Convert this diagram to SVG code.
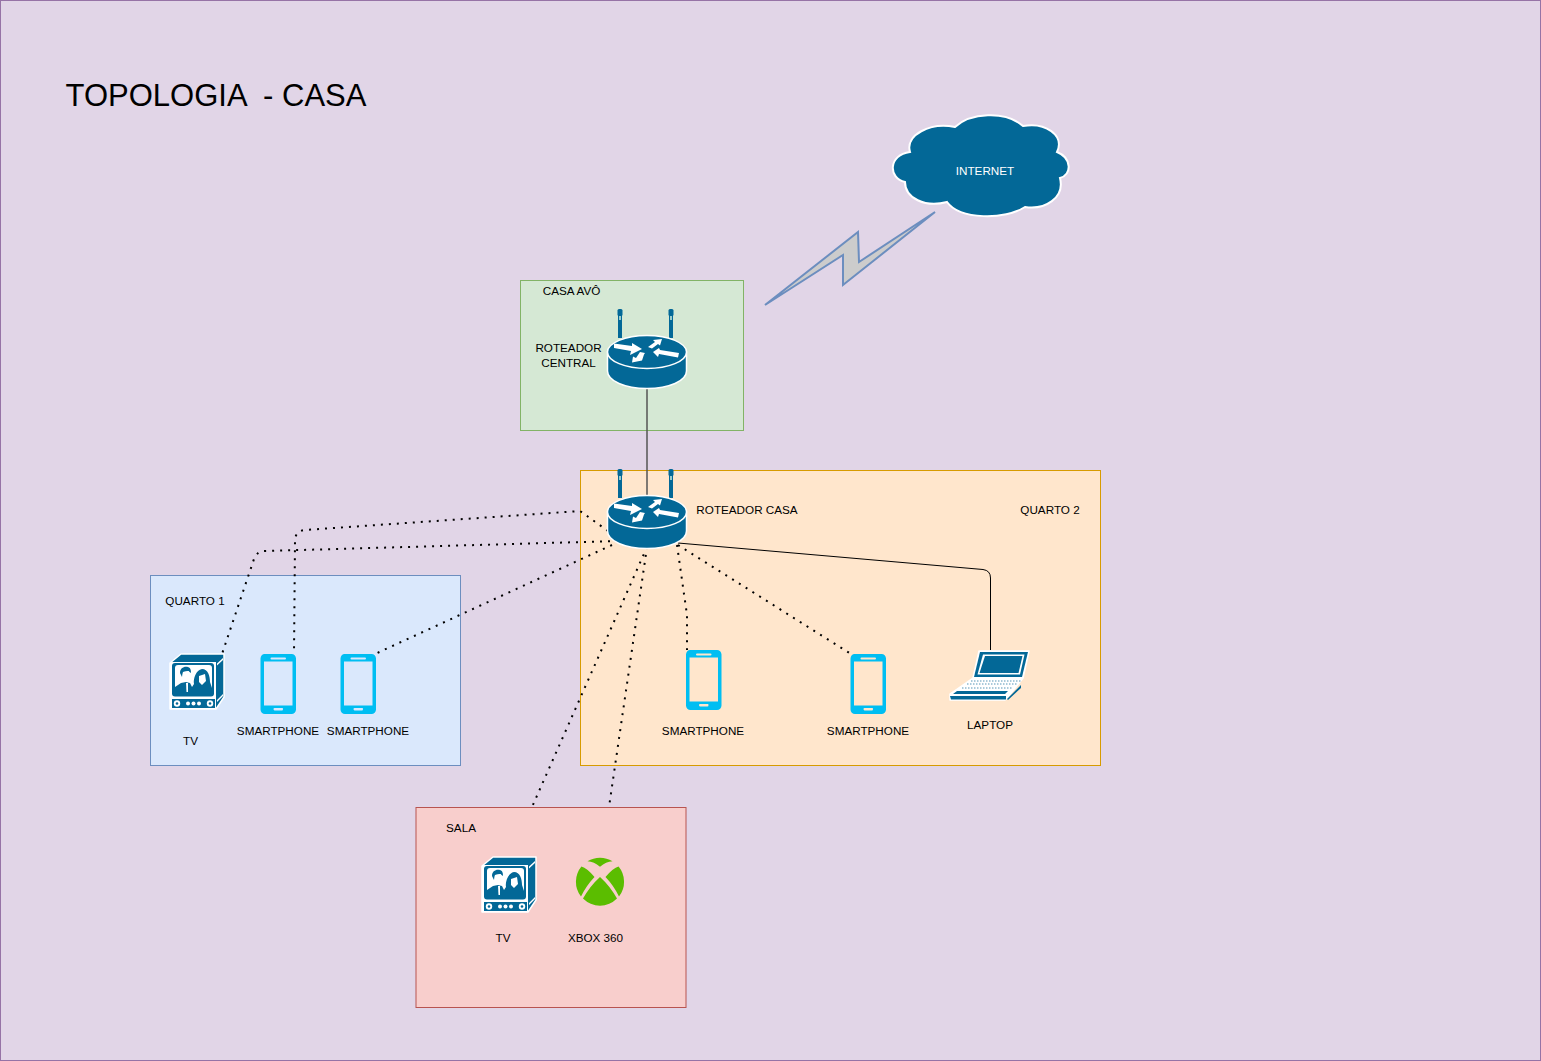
<svg xmlns="http://www.w3.org/2000/svg" width="1541" height="1061" viewBox="0 0 1541 1061">
<style>
text{font-family:"Liberation Sans",Arial,sans-serif;font-size:11.700px;fill:#000;text-anchor:middle;white-space:pre}
.blue{fill:#036897}
.wb{fill:#036897;stroke:#fff;stroke-width:1.5}
.wh{fill:#fff}
.dot{fill:none;stroke:#000;stroke-width:2;stroke-dasharray:2 6;stroke-linecap:butt}
.ph{fill:#00bef2;fill-rule:evenodd}
</style>
<defs>
<g id="router">
<rect x="-29" y="-42" width="4" height="28" class="blue"/>
<rect x="22" y="-42" width="4" height="28" class="blue"/>
<rect x="-29.500" y="-43" width="5" height="7" rx="1.500" class="blue"/>
<rect x="21.500" y="-43" width="5" height="7" rx="1.500" class="blue"/>
<rect x="-28" y="-36" width="2" height="4" fill="#9cc"/>
<rect x="23" y="-36" width="2" height="4" fill="#9cc"/>
<path d="M-39.500 0V19C-39.500 29 -22 36.500 0 36.500S39.500 29 39.500 19V0Z" class="blue" stroke="#fff" stroke-width="1.500"/>
<ellipse cx="0" cy="0" rx="39.500" ry="16.500" class="blue" stroke="#fff" stroke-width="1.500"/>
<path class="wh" d="M-33 -8.500L-15 -6L-15 -9L-5 -3L-17 3L-16 -1L-33 -4ZM1 -5L8 -10L6 -12L15 -13L13 -6.500L11 -8L5 -3.500ZM32 1L13 -2L12 -4L6 0L11 5L12 2L31 5.500ZM-7 0L-2 1L-3 2.500L-5 8.500L-15 10.500L-14 4.500L-11 6Z"/>
</g>
<g id="tv">
<path class="wb" d="M0 9L11 0H54V43L46 55H0Z" stroke-linejoin="round"/>
<path fill="#fff" d="M0 8H46V55H0Z"/>
<rect class="blue" x="2" y="9" width="42" height="33.500" rx="3"/>
<rect fill="#fff" x="5" y="11" width="37" height="28" rx="3"/>
<path class="blue" d="M5 39V33L11 29L16 28L20 29L22 33L24 30C23 25 26 16 32 15C38 15 40 22 40 28L42 34V39Z"/>
<path class="blue" d="M10 19C10 14 14 12 18 13C21 14 21 17 21 19L18 17L13 18L12 23Z"/>
<path fill="#fff" d="M13 18L19 17C20 21 19 26 17 28H14C13 26 12 22 13 18ZM29 22L35 20L36 27L32 31L29 28Z"/>
<path fill="#fff" d="M16 29L18 29L18 38L16.500 38Z"/>
<rect x="2" y="45" width="43" height="9" class="blue"/>
<circle cx="7" cy="49.500" r="3.200" fill="#fff"/><circle cx="7" cy="49.500" r="1.300" class="blue"/>
<circle cx="40" cy="49.500" r="3.200" fill="#fff"/><circle cx="40" cy="49.500" r="1.300" class="blue"/>
<circle cx="18" cy="49.500" r="2" fill="#fff"/><circle cx="23.500" cy="49.500" r="2" fill="#fff"/><circle cx="29" cy="49.500" r="2" fill="#fff"/>
<path fill="#fff" d="M47 9.500L53 4L53 6L47 11.500ZM47 46L53 40V42L47 48Z"/>
</g>
<path id="phone" class="ph" d="M4 0H31C33.500 0 35.500 2 35.500 4.500V55.500C35.500 58 33.500 60 31 60H4.500C2 60 0 58 0 55.500V4.500C0 2 2 0 4 0ZM11 3.500Q10 3.500 10 4.500T11 5.500H24.500Q25.500 5.500 25.500 4.500T24.500 3.500ZM3.500 7.500V51.500H32V7.500ZM14 54Q13 54 13 55T14 56.500H21.500Q22.500 56.500 22.500 55T21.500 54Z"/>
</defs>

<rect id="page" x="0.500" y="0.500" width="1540" height="1060" fill="#e1d5e7" stroke="#9673a6"/>
<text id="title" x="216" y="106" style="font-size:31px">TOPOLOGIA  - CASA</text>

<g id="casa-avo"><rect x="520.500" y="280.500" width="223" height="150" fill="#d5e8d4" stroke="#82b366"/><text x="571.500" y="295">CASA AVÔ</text></g>
<g id="quarto-2"><rect x="580.500" y="470.500" width="520" height="295" fill="#ffe6cc" stroke="#d79b00"/><text x="1050" y="514">QUARTO 2</text></g>
<g id="quarto-1"><rect x="150.500" y="575.500" width="310" height="190" fill="#dae8fc" stroke="#6c8ebf"/><text x="195" y="605">QUARTO 1</text></g>
<g id="sala"><rect x="416" y="807.500" width="270" height="200" fill="#f8cecc" stroke="#b85450"/><text x="461" y="832">SALA</text></g>

<g id="connectors">
<path d="M647 388V496" fill="none" stroke="#555" stroke-width="1.500"/>
<path d="M678 543L983 569.500Q990.500 570.500 990.500 578V650" fill="none" stroke="#000" stroke-width="1"/>
<path class="dot" d="M608 531L580 511L305 530Q295 531 295 541L294 654"/>
<path class="dot" d="M618 541L265 551Q257 551 254 559L222 654"/>
<path class="dot" d="M612 545L375 654"/>
<path class="dot" d="M647 547L532 807"/>
<path class="dot" d="M647 547L609 807"/>
<path class="dot" d="M677 545L687 615V650"/>
<path class="dot" d="M678 545L851 654"/>
</g>

<g id="internet">
<path d="M955 127C970 113 1005 110 1023 126C1045 122 1065 135 1057 152C1072 158 1072 175 1060 178C1065 198 1045 210 1025 207C1005 220 960 220 947 202C925 208 905 198 905 182C888 178 888 155 910 152C905 135 930 122 955 127Z" fill="#036897" stroke="#fff" stroke-width="2"/>
<text x="985" y="175" style="fill:#fff">INTERNET</text>
</g>
<g id="bolt"><path d="M765 305L858 232L859 262L935 212L843 285L843 255Z" fill="#ccc" stroke="#6c8ebf" stroke-width="2"/></g>

<g id="roteador-central"><use href="#router" x="647" y="352"/><text x="568.500" y="352">ROTEADOR</text><text x="568.500" y="367">CENTRAL</text></g>
<g id="roteador-casa"><use href="#router" x="647" y="512"/><text x="747" y="514">ROTEADOR CASA</text></g>

<g id="tv-quarto"><use href="#tv" x="170" y="654"/><text x="190.500" y="745">TV</text></g>
<g id="phone-1"><use href="#phone" x="260.500" y="654"/><text x="278" y="735">SMARTPHONE</text></g>
<g id="phone-2"><use href="#phone" x="340.500" y="654"/><text x="368" y="735">SMARTPHONE</text></g>
<g id="phone-3"><use href="#phone" x="686" y="650"/><text x="703" y="735">SMARTPHONE</text></g>
<g id="phone-4"><use href="#phone" x="850.500" y="654"/><text x="868" y="735">SMARTPHONE</text></g>

<g id="laptop">
<path d="M979 651H1029L1023 678L1007 698L1005 700H950V694L973 678Z" fill="#fff" stroke="#fff" stroke-width="1.500" stroke-linejoin="round"/>
<path class="blue" d="M980 652H1028L1022 677H974Z"/>
<path fill="#fff" d="M983 654.500H1024.500L1020 674.500H977.500Z"/>
<path class="blue" d="M985 656H1022.500L1018.500 673H979.500Z"/>
<path d="M971 681H1021M967 684H1017M962 688H1012" stroke="#8fb9cf" stroke-width="1.500" stroke-dasharray="1.500 1.500" fill="none"/>
<path class="blue" d="M950 696H1006V699.500H951ZM957 691H1008L1005 694H953ZM1007 699L1021 685V688L1008 700Z"/>
<text x="990" y="729">LAPTOP</text>
</g>

<g id="tv-sala"><use href="#tv" x="482" y="857"/><text x="503" y="942">TV</text></g>
<g id="xbox">
<path fill="#5bbd00" d="M587.500 861.200A24 24 0 0 1 612.500 861.200Q606 861.500 600 866.700Q594 861.500 587.500 861.200ZM600 877Q610 886 617 898.600A24 24 0 0 1 583 898.600Q590 886 600 877ZM581.400 866.500Q587 868 594.500 877Q586 886 581 896.500A24 24 0 0 1 581.400 866.500ZM618.600 866.500Q613 868 605.500 877Q614 886 619 896.500A24 24 0 0 0 618.600 866.500Z"/>
<text x="595.500" y="942">XBOX 360</text>
</g>
</svg>
